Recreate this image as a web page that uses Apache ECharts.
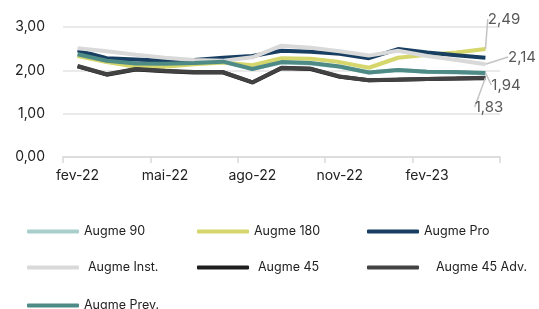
<!DOCTYPE html>
<html>
<head>
<meta charset="utf-8">
<script src="https://cdn.jsdelivr.net/npm/echarts@6/dist/echarts.min.js"></script>
<style>
  html, body { margin: 0; padding: 0; background: #fff; }
  #chart { width: 539px; height: 309px; }
</style>
</head>
<body>
<div id="chart"></div>
<script>
// meses (fev-22 .. abr-23)
const months = ['fev-22', 'mar-22', 'abr-22', 'mai-22', 'jun-22', 'jul-22', 'ago-22',
  'set-22', 'out-22', 'nov-22', 'dez-22', 'jan-23', 'fev-23', 'mar-23', 'abr-23']

const augme90 = [2.35, 2.21, 2.15, 2.15, 2.17, 2.19, 2.04, 2.18, 2.16, 2.08, 1.95, 2.01, 1.97, 1.95, 1.93]
const augme180 = [2.33, 2.19, 2.08, 2.08, 2.14, 2.18, 2.12, 2.28, 2.27, 2.19, 2.06, 2.29, 2.36, 2.41, 2.49]
const augmePro = [2.46, 2.28, 2.25, 2.22, 2.24, 2.29, 2.33, 2.45, 2.43, 2.38, 2.28, 2.49, 2.41, 2.35, 2.29]
const augmeInst = [2.51, 2.44, 2.36, 2.29, 2.24, 2.22, 2.30, 2.57, 2.52, 2.44, 2.34, 2.45, 2.33, 2.24, 2.14]
const augme45 = [2.09, 1.90, 2.02, 1.98, 1.95, 1.95, 1.72, 2.05, 2.03, 1.85, 1.77, 1.78, 1.80, 1.81, 1.82]
const augme45Adv = [2.10, 1.91, 2.03, 1.99, 1.96, 1.96, 1.72, 2.06, 2.04, 1.86, 1.77, 1.79, 1.80, 1.81, 1.83]
const augmePrev = [2.37, 2.22, 2.16, 2.15, 2.17, 2.20, 2.03, 2.19, 2.17, 2.09, 1.95, 2.01, 1.97, 1.96, 1.94]

const yTicks = [0, 1, 2, 3]

const FONT = 'Inter, "Noto Sans", sans-serif'
const fmt = v => v.toFixed(2).replace('.', ',')

// only the last point gets a value label
const withEndLabel = arr => arr.map((v, i) => i === arr.length - 1
  ? { value: v, label: { show: true } }
  : v)

const makeSeries = (name, data, color, endLabel) => {
  const s = {
    name,
    type: 'line',
    data: endLabel ? withEndLabel(data) : data,
    symbol: 'circle',
    symbolSize: 0,
    showSymbol: true,
    lineStyle: { width: 4, color },
    itemStyle: { color },
    label: {
      show: false,
      color: '#595959',
      fontSize: 15,
      fontFamily: FONT,
      formatter: p => fmt(p.value)
    },
    emphasis: { disabled: true },
    animation: false
  }
  if (endLabel) {
    s.labelLayout = endLabel
    s.labelLine = { show: true, lineStyle: { color: '#c4c4c4', width: 1.5 } }
  }
  return s
}

const chart = echarts.init(document.getElementById('chart'))

// one legend per cell; fixed column starts via separate components
const legendCell = (left, top, name, pad) => ({
  left,
  top,
  padding: 0,
  itemWidth: 52,
  itemHeight: 4,
  icon: 'roundRect',
  textStyle: { fontFamily: FONT, fontSize: 12.5, color: '#222', padding: [0, 0, 0, pad || 0] },
  data: [name]
})

chart.setOption({
  animation: false,
  grid: { left: 63, right: 39, top: 27, height: 130, containLabel: false },
  legend: [
    legendCell(27, 225, 'Augme 90'),
    legendCell(197, 225, 'Augme 180'),
    legendCell(367, 225, 'Augme Pro'),
    legendCell(27, 261, 'Augme Inst.', 4),
    legendCell(197, 261, 'Augme 45', 4),
    legendCell(367, 261, 'Augme 45 Adv.', 12),
    legendCell(27, 299, 'Augme Prev.')
  ],
  xAxis: [
    {
      type: 'category',
      data: months,
      boundaryGap: true,
      axisLine: { show: true, lineStyle: { color: '#d9d9d9', width: 1.5 } },
      axisTick: { show: false },
      axisLabel: { interval: 2, margin: 12, fontFamily: FONT, fontSize: 14, color: '#222' },
      splitLine: { show: false }
    },
    {
      // tick marks only, every 3 months on the category boundaries
      type: 'value',
      position: 'bottom',
      min: 0,
      max: months.length,
      interval: 3,
      axisLine: { show: false },
      axisTick: { show: true, length: 6, lineStyle: { color: '#d9d9d9', width: 1.5 } },
      axisLabel: { show: false },
      splitLine: { show: false }
    }
  ],
  yAxis: {
    type: 'value',
    min: yTicks[0],
    max: yTicks[yTicks.length - 1],
    interval: 1,
    axisLine: { show: false },
    axisTick: { show: false },
    axisLabel: { margin: 18, fontFamily: FONT, fontSize: 14, color: '#222', formatter: v => fmt(v) },
    splitLine: { lineStyle: { color: '#e3e3e3', width: 1.5 } }
  },
  series: [
    makeSeries('Augme 90', augme90, '#a8cfcb'),
    makeSeries('Augme 180', augme180, '#d5d66c', { x: 504, y: 19, align: 'center', verticalAlign: 'middle' }),
    makeSeries('Augme Pro', augmePro, '#183f61'),
    makeSeries('Augme Inst.', augmeInst, '#d9d9d9', { x: 508, y: 57, align: 'left', verticalAlign: 'middle' }),
    makeSeries('Augme 45', augme45, '#1e1e1e'),
    makeSeries('Augme 45 Adv.', augme45Adv, '#424242', { x: 489, y: 107, align: 'center', verticalAlign: 'middle' }),
    makeSeries('Augme Prev.', augmePrev, '#4f8b86', { x: 506, y: 85, align: 'center', verticalAlign: 'middle' })
  ]
})
</script>
</body>
</html>
